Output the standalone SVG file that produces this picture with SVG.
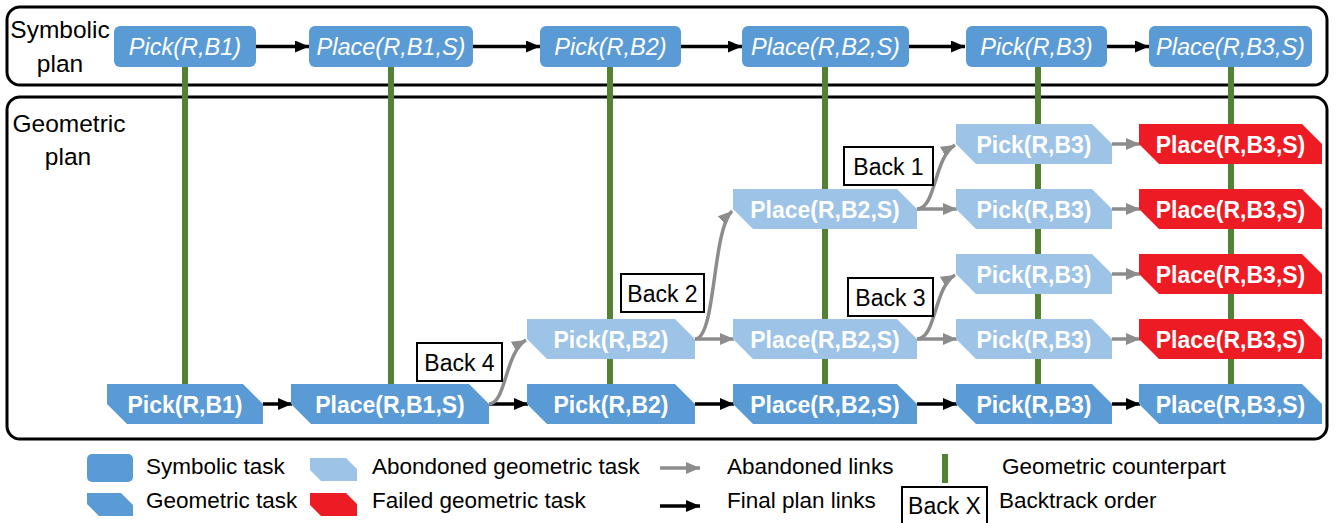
<svg xmlns="http://www.w3.org/2000/svg" width="1337" height="523" viewBox="0 0 1337 523">
<defs>
<style>
.frame{fill:none;stroke:#000;stroke-width:3}
.sym{fill:#5B9BD5}
.geo{fill:#5B9BD5}
.ab{fill:#9DC3E6}
.fail{fill:#ED1C24}
.st{font-family:"Liberation Sans",Arial,sans-serif;font-style:italic;font-size:23.5px;fill:#fff;text-anchor:middle}
.gt{font-family:"Liberation Sans",Arial,sans-serif;font-weight:bold;font-size:23px;fill:#fff;text-anchor:middle}
.lab{font-family:"Liberation Sans",Arial,sans-serif;font-size:24.5px;fill:#000;text-anchor:middle}
.bk{fill:#fff;stroke:#000;stroke-width:2}
.bt{font-family:"Liberation Sans",Arial,sans-serif;font-size:23px;fill:#000;text-anchor:middle}
.lt{font-family:"Liberation Sans",Arial,sans-serif;font-size:22.5px;fill:#000}
.cp{stroke:#548235;stroke-width:6;fill:none}
.fin{stroke:#000;stroke-width:3.5;fill:none;marker-end:url(#ah)}
.abl{stroke:#8C8C8C;stroke-width:3.5;fill:none;marker-end:url(#ahg)}
</style>
<marker id="ah" markerUnits="userSpaceOnUse" markerWidth="14" markerHeight="12" refX="14" refY="6" orient="auto"><path d="M0,0 L14,6 L0,12 Z" fill="#000"/></marker>
<marker id="ahg" markerUnits="userSpaceOnUse" markerWidth="14" markerHeight="12" refX="14" refY="6" orient="auto"><path d="M0,0 L14,6 L0,12 Z" fill="#8C8C8C"/></marker>
</defs>
<rect width="1337" height="523" fill="#fff"/>

<g id="frames">
<rect class="frame" x="7" y="7" width="1320" height="78" rx="13"/>
<rect class="frame" x="7" y="97" width="1320" height="342" rx="13"/>
<text class="lab" x="60" y="38">Symbolic</text>
<text class="lab" x="60" y="72">plan</text>
<text class="lab" x="69" y="132">Geometric</text>
<text class="lab" x="68" y="165">plan</text>
</g>

<g id="connectors">
<line class="cp" x1="185" y1="66" x2="185" y2="385"/>
<line class="cp" x1="391" y1="66" x2="391" y2="385"/>
<line class="cp" x1="610" y1="66" x2="610" y2="385"/>
<line class="cp" x1="825" y1="66" x2="825" y2="385"/>
<line class="cp" x1="1038" y1="66" x2="1038" y2="385"/>
<line class="cp" x1="1231" y1="66" x2="1231" y2="385"/>
<path class="fin" d="M256,46.5 H309"/>
<path class="fin" d="M473,46.5 H540"/>
<path class="fin" d="M681,46.5 H742"/>
<path class="fin" d="M909,46.5 H965"/>
<path class="fin" d="M1107,46.5 H1149"/>
<path class="fin" d="M263,404 H292"/>
<path class="fin" d="M489,404 H528"/>
<path class="fin" d="M695,404 H734"/>
<path class="fin" d="M917,404 H957"/>
<path class="fin" d="M1112,404 H1140"/>
<path class="abl" d="M695,339 H734"/>
<path class="abl" d="M917,339 H957"/>
<path class="abl" d="M1112,339 H1140"/>
<path class="abl" d="M1112,274 H1140"/>
<path class="abl" d="M917,209 H957"/>
<path class="abl" d="M1112,209 H1140"/>
<path class="abl" d="M1112,144 H1140"/>
<path class="abl" d="M489,404 C506,404 505,352 526,340"/>
<path class="abl" d="M695,339 C716,339 712,230 732,211"/>
<path class="abl" d="M917,209 C936,209 934,157 955,145"/>
<path class="abl" d="M917,339 C936,339 934,287 955,275"/>
</g>

<g id="symbolic-nodes">
<g id="s1"><rect class="sym" x="114" y="26" width="142" height="41" rx="6"/><text class="st" x="185" y="55">Pick(R,B1)</text></g>
<g id="s2"><rect class="sym" x="309" y="26" width="164" height="41" rx="6"/><text class="st" x="391" y="55">Place(R,B1,S)</text></g>
<g id="s3"><rect class="sym" x="540" y="26" width="141" height="41" rx="6"/><text class="st" x="610.5" y="55">Pick(R,B2)</text></g>
<g id="s4"><rect class="sym" x="742" y="26" width="167" height="41" rx="6"/><text class="st" x="825.5" y="55">Place(R,B2,S)</text></g>
<g id="s5"><rect class="sym" x="966" y="26" width="141" height="41" rx="6"/><text class="st" x="1036.5" y="55">Pick(R,B3)</text></g>
<g id="s6"><rect class="sym" x="1149" y="26" width="163" height="41" rx="6"/><text class="st" x="1230.5" y="55">Place(R,B3,S)</text></g>
</g>

<g id="geometric-nodes">
<g id="g1"><path class="geo" d="M107,384 H243 L263,404 V424 H127 L107,404 Z"/><text class="gt" x="185" y="413">Pick(R,B1)</text></g>
<g id="g2"><path class="geo" d="M291,384 H469 L489,404 V424 H311 L291,404 Z"/><text class="gt" x="390" y="413">Place(R,B1,S)</text></g>
<g id="g3"><path class="geo" d="M527,384 H675 L695,404 V424 H547 L527,404 Z"/><text class="gt" x="611" y="413">Pick(R,B2)</text></g>
<g id="g4"><path class="geo" d="M733,384 H897 L917,404 V424 H753 L733,404 Z"/><text class="gt" x="825" y="413">Place(R,B2,S)</text></g>
<g id="g5"><path class="geo" d="M956,384 H1092 L1112,404 V424 H976 L956,404 Z"/><text class="gt" x="1034" y="413">Pick(R,B3)</text></g>
<g id="g6"><path class="geo" d="M1139,384 H1302 L1322,404 V424 H1159 L1139,404 Z"/><text class="gt" x="1230.5" y="413">Place(R,B3,S)</text></g>

<g id="a1"><path class="ab" d="M527,319 H675 L695,339 V359 H547 L527,339 Z"/><text class="gt" x="611" y="348">Pick(R,B2)</text></g>
<g id="a2"><path class="ab" d="M733,319 H897 L917,339 V359 H753 L733,339 Z"/><text class="gt" x="825" y="348">Place(R,B2,S)</text></g>
<g id="a3"><path class="ab" d="M956,319 H1092 L1112,339 V359 H976 L956,339 Z"/><text class="gt" x="1034" y="348">Pick(R,B3)</text></g>
<g id="f1"><path class="fail" d="M1139,319 H1302 L1322,339 V359 H1159 L1139,339 Z"/><text class="gt" x="1230.5" y="348">Place(R,B3,S)</text></g>

<g id="a4"><path class="ab" d="M956,254 H1092 L1112,274 V294 H976 L956,274 Z"/><text class="gt" x="1034" y="283">Pick(R,B3)</text></g>
<g id="f2"><path class="fail" d="M1139,254 H1302 L1322,274 V294 H1159 L1139,274 Z"/><text class="gt" x="1230.5" y="283">Place(R,B3,S)</text></g>

<g id="a5"><path class="ab" d="M733,189 H897 L917,209 V229 H753 L733,209 Z"/><text class="gt" x="825" y="218">Place(R,B2,S)</text></g>
<g id="a6"><path class="ab" d="M956,189 H1092 L1112,209 V229 H976 L956,209 Z"/><text class="gt" x="1034" y="218">Pick(R,B3)</text></g>
<g id="f3"><path class="fail" d="M1139,189 H1302 L1322,209 V229 H1159 L1139,209 Z"/><text class="gt" x="1230.5" y="218">Place(R,B3,S)</text></g>

<g id="a7"><path class="ab" d="M956,124 H1092 L1112,144 V164 H976 L956,144 Z"/><text class="gt" x="1034" y="153">Pick(R,B3)</text></g>
<g id="f4"><path class="fail" d="M1139,124 H1302 L1322,144 V164 H1159 L1139,144 Z"/><text class="gt" x="1230.5" y="153">Place(R,B3,S)</text></g>
</g>

<g id="backtrack-labels">
<g id="back1"><rect class="bk" x="844" y="147" width="89" height="38"/><text class="bt" x="888.5" y="175">Back 1</text></g>
<g id="back2"><rect class="bk" x="621" y="274" width="83" height="38"/><text class="bt" x="662.5" y="302">Back 2</text></g>
<g id="back3"><rect class="bk" x="848" y="278" width="85" height="38"/><text class="bt" x="890.5" y="306">Back 3</text></g>
<g id="back4"><rect class="bk" x="417" y="343" width="85" height="38"/><text class="bt" x="459.5" y="371">Back 4</text></g>
</g>

<g id="legend">
<rect class="sym" x="87" y="454" width="46" height="28" rx="5"/>
<text class="lt" x="146" y="474">Symbolic task</text>
<path class="geo" d="M87,493 H121 L133,505 V516 H99 L87,504 Z"/>
<text class="lt" x="146" y="508">Geometric task</text>
<path class="ab" d="M310,458 H346 L357,469 V481 H321 L310,470 Z"/>
<text class="lt" x="372" y="474">Abondoned geometric task</text>
<path class="fail" d="M310,493 H346 L357,504 V516 H321 L310,505 Z"/>
<text class="lt" x="372" y="508">Failed geometric task</text>
<path class="abl" d="M660,468 H700"/>
<text class="lt" x="727" y="474">Abandoned links</text>
<path class="fin" d="M660,506 H700"/>
<text class="lt" x="727" y="508">Final plan links</text>
<rect x="942" y="454" width="6" height="29" fill="#548235"/>
<text class="lt" x="1002" y="474">Geometric counterpart</text>
<rect class="bk" x="902" y="487" width="85" height="40"/>
<text class="bt" x="944.5" y="514">Back X</text>
<text class="lt" x="999" y="508">Backtrack order</text>
</g>
</svg>
